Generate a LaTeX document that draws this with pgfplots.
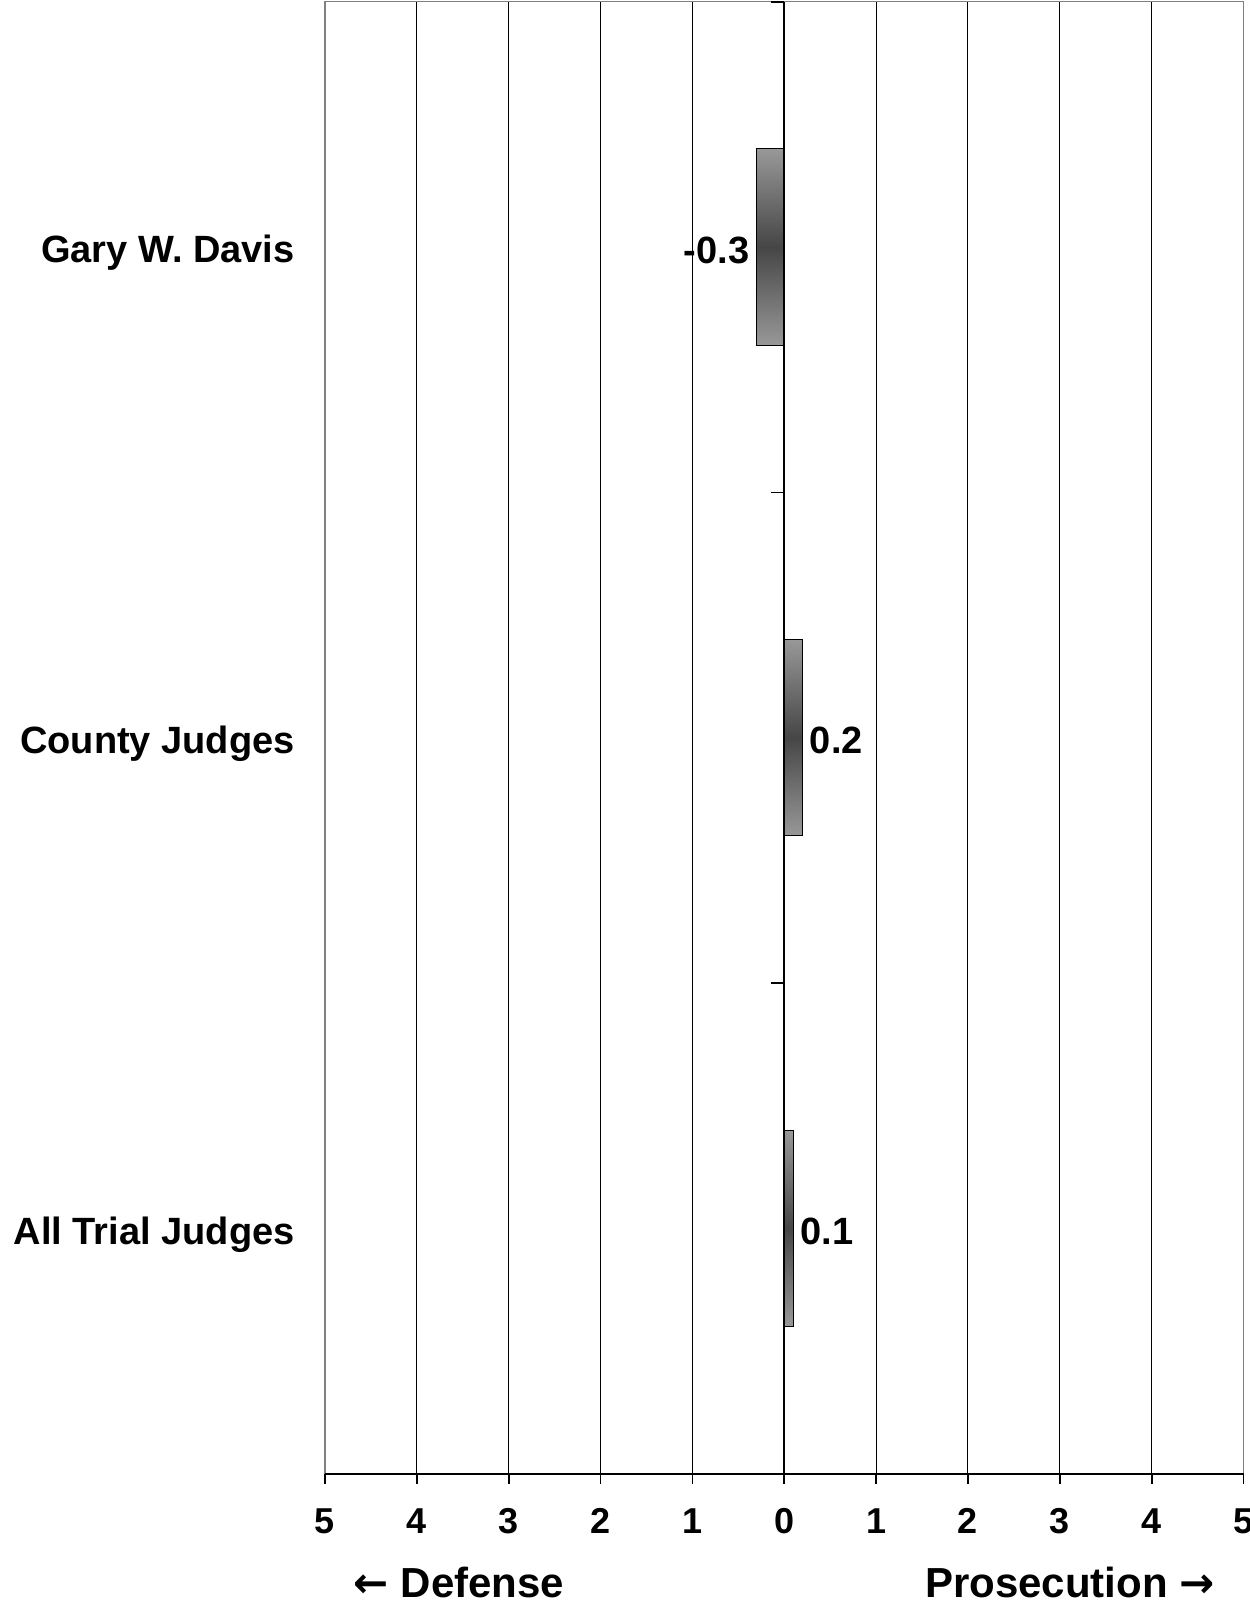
\documentclass[border=0pt]{standalone}
\usepackage{pgfplots}
\pgfplotsset{compat=1.18}
\usepackage{fontspec}
\setmainfont{Liberation Sans}
\newfontfamily\arrowfont{DejaVu Sans}
\definecolor{framegray}{RGB}{128,128,128}
\definecolor{barlight}{RGB}{152,152,152}
\definecolor{bardark}{RGB}{70,70,70}
\begin{document}
\begin{tikzpicture}
\useasboundingbox (0,0) rectangle (624.5pt,-802pt);
\begin{axis}[
  at={(162.5pt,-0.85pt)}, anchor=north west,
  scale only axis, width=459.25pt, height=736pt,
  xmin=-5, xmax=5, ymin=0.5, ymax=3.5,
  xtick={-5,-4,-3,-2,-1,0,1,2,3,4,5},
  xticklabels={5,4,3,2,1,0,1,2,3,4,5},
  ytick={1,2,3},
  yticklabels={All Trial Judges, County Judges, Gary W. Davis},
  axis line style={draw=none},
  tick align=outside,
  xtick pos=left,
  major tick length=5pt,
  xtick style={black, line width=0.85pt},
  ytick style={draw=none},
  xmajorgrids, major grid style={black, line width=0.5pt},
  yticklabel style={font=\bfseries\fontsize{19}{22}\selectfont, inner sep=0pt, xshift=-10pt, yshift=-3pt},
  xticklabel style={font=\bfseries\fontsize{18}{22}\selectfont, yshift=-9pt},
  clip=false,
]
\addplot[xbar, bar width=0.4, bar shift=0pt, draw=black, line width=0.6pt,
  top color=barlight, bottom color=barlight, middle color=bardark,
  nodes near coords, point meta=explicit symbolic,
  every node near coord/.append style={anchor=east, black, yshift=-1.5pt, font=\bfseries\fontsize{19}{22}\selectfont}]
  coordinates {(-0.3,3) [-0.3]};
\addplot[xbar, bar width=0.4, bar shift=0pt, draw=black, line width=0.6pt,
  top color=barlight, bottom color=barlight, middle color=bardark,
  nodes near coords, point meta=explicit symbolic,
  every node near coord/.append style={anchor=west, black, yshift=-1.5pt, font=\bfseries\fontsize{19}{22}\selectfont}]
  coordinates {(0.2,2) [0.2]};
\addplot[xbar, bar width=0.4, bar shift=0pt, draw=black, line width=0.6pt,
  top color=barlight, bottom color=barlight, middle color=bardark,
  nodes near coords, point meta=explicit symbolic,
  every node near coord/.append style={anchor=west, black, yshift=-1.5pt, font=\bfseries\fontsize{19}{22}\selectfont}]
  coordinates {(0.1,1) [0.1]};
\draw[framegray, line width=0.65pt] (rel axis cs:0,0) -- (rel axis cs:0,1) -- (rel axis cs:1,1) -- (rel axis cs:1,0);
\draw[black, line width=0.85pt] (rel axis cs:0,0) -- (rel axis cs:1,0);
\draw[black, line width=0.85pt] (axis cs:0,0.5) -- (axis cs:0,3.5);
\draw[black, line width=0.85pt] (axis cs:0,1.5) -- ([xshift=-6.5pt]axis cs:0,1.5);
\draw[black, line width=0.85pt] (axis cs:0,2.5) -- ([xshift=-6.5pt]axis cs:0,2.5);
\draw[black, line width=0.85pt] (axis cs:0,3.5) -- ([xshift=-6.5pt]axis cs:0,3.5);
\end{axis}
\node[anchor=base, font=\bfseries\fontsize{21}{24}\selectfont] at (229.5pt,-798.5pt) {{\arrowfont\bfseries ←} Defense};
\node[anchor=base, font=\bfseries\fontsize{21}{24}\selectfont] at (535pt,-798.5pt) {Prosecution {\arrowfont\bfseries →}};
\end{tikzpicture}
\end{document}
